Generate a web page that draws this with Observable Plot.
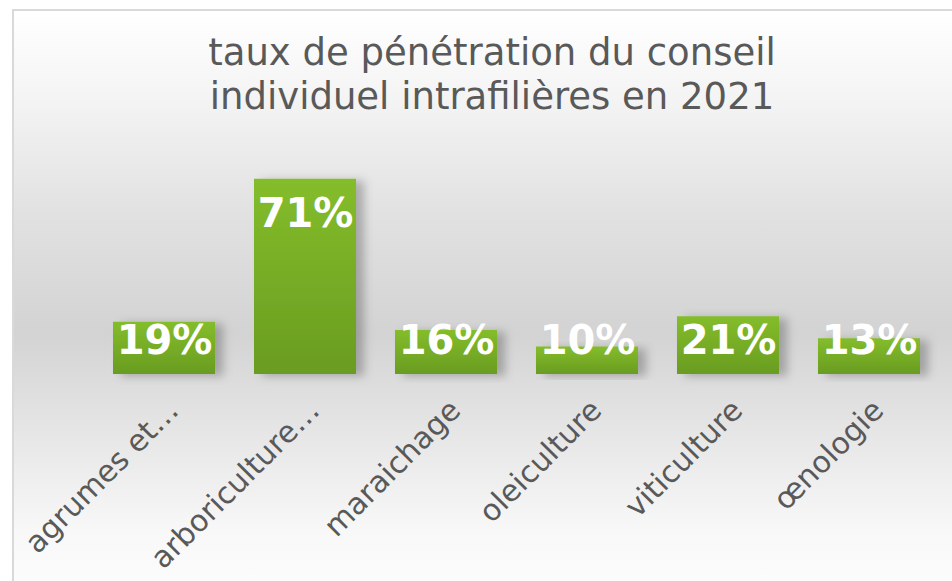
<!DOCTYPE html>
<html>
<head>
<meta charset="utf-8">
<script src="https://cdn.jsdelivr.net/npm/d3@7"></script>
<script src="https://cdn.jsdelivr.net/npm/@observablehq/plot@0.6"></script>
<style>
  html, body { margin: 0; padding: 0; width: 952px; height: 581px; overflow: hidden; background: #fff; }
  #frame {
    position: absolute; left: 12px; top: 9px; width: 990px; height: 620px;
    border-left: 2px solid #d9d9d9; border-top: 2px solid #d9d9d9;
    background: linear-gradient(to bottom, #ffffff 0%, #f4f4f4 14%, #e2e2e2 32%, #d3d3d3 52%, #e6e6e6 68%, #f8f8f8 84%, #ffffff 100%);
  }
  #title {
    position: absolute; left: 0; top: 31px; width: 984px; text-align: center;
    font-family: "DejaVu Sans", Verdana, sans-serif; font-size: 37px; line-height: 44px; color: #595959;
  }
  #chart { position: absolute; left: 0; top: 130px; }
</style>
</head>
<body>
<div id="frame"></div>
<div id="title">taux de pénétration du conseil<br>individuel intrafilières en 2021</div>
<div id="chart"></div>
<script>
const categories = ["agrumes et…", "arboriculture…", "maraichage", "oleiculture", "viticulture", "œnologie"];
const values = [0.19, 0.71, 0.16, 0.10, 0.21, 0.13];

const data = categories.map((c, i) => ({category: c, value: values[i]}));
const fmt = d3.format(".0%");

const defs = () => {
  const d = d3.create("svg:defs");
  const g = d.append("linearGradient").attr("id", "barGrad").attr("x1", 0).attr("y1", 0).attr("x2", 0).attr("y2", 1);
  g.append("stop").attr("offset", "0%").attr("stop-color", "#84bd2b");
  g.append("stop").attr("offset", "100%").attr("stop-color", "#699c21");
  const f = d.append("filter").attr("id", "barShadow").attr("x", "-20%").attr("y", "-20%").attr("width", "160%").attr("height", "140%");
  f.append("feDropShadow").attr("dx", 8).attr("dy", 2).attr("stdDeviation", 5).attr("flood-color", "#000").attr("flood-opacity", 0.25);
  return d.node();
};

const chart = Plot.plot({
  width: 952,
  height: 451,
  marginLeft: 111,
  marginRight: 30,
  marginTop: 24,
  marginBottom: 207,
  style: {background: "transparent", fontFamily: "DejaVu Sans, Verdana, sans-serif", color: "#595959", overflow: "visible"},
  x: {domain: categories, paddingInner: 0.28, paddingOuter: 0, label: null},
  y: {domain: [0, 0.8], axis: null},
  marks: [
    defs,
    Plot.barY(data, {x: "category", y: "value", fill: "url(#barGrad)"}),
    Plot.text(data, {
      x: "category",
      y: d => Math.max(d.value - 0.127, 0.12),
      text: d => fmt(d.value),
      fill: "white",
      fontWeight: "bold",
      fontSize: 40
    }),
    Plot.axisX({tickRotate: -45, tickSize: 0, tickPadding: 31, dx: 9, fontSize: 30, color: "#595959"})
  ]
});
d3.select(chart).selectAll("g[aria-label='bar'] rect").attr("filter", "url(#barShadow)");
document.getElementById("chart").appendChild(chart);
</script>
</body>
</html>
